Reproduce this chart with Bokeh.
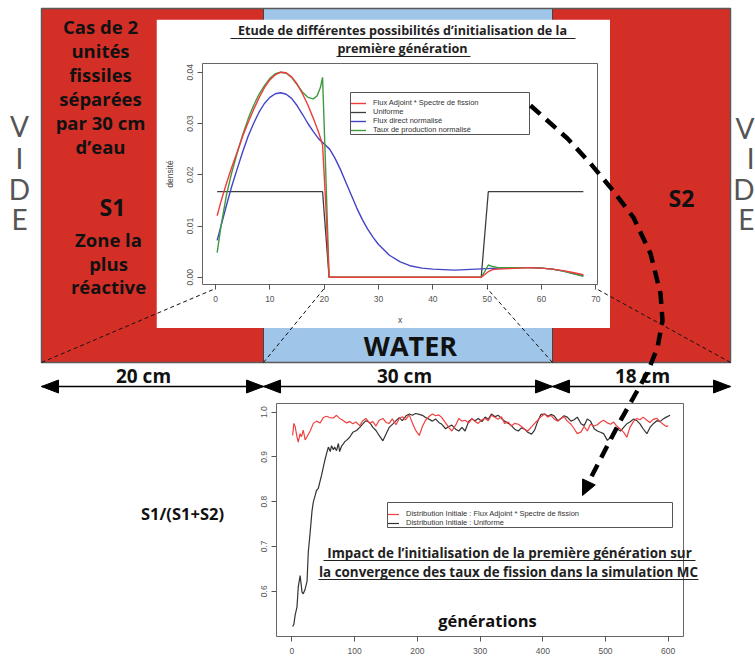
import math
from bokeh.plotting import figure
from bokeh.models import Range1d, FixedTicker, PrintfTickFormatter, Legend, LegendItem
from bokeh.core.properties import value
from bokeh.embed import file_html
from bokeh.resources import INLINE

# ---------------- data: top inset (densité vs x) ----------------
top_series = ["Flux Adjoint * Spectre de fission", "Uniforme",
              "Flux direct normalisé", "Taux de production normalisé"]
adj_x = [0.3, 1, 2, 3, 4, 5, 6, 7, 8, 9, 10, 11, 12, 13, 14, 15, 16, 17, 18, 19,
         19.7, 20.3, 20.9, 30, 40, 48.9, 49.5, 50.2, 51, 52, 54, 56, 58, 60, 62, 64, 66, 67.7]
adj_y = [0.0120, 0.0148, 0.0183, 0.0215, 0.0245, 0.0275, 0.0302, 0.0327, 0.0350, 0.0370,
         0.0385, 0.0395, 0.0400, 0.0399, 0.0391, 0.0377, 0.0358, 0.0336, 0.0310, 0.0282,
         0.0258, 0.0140, 0.0, 0.0, 0.0, 0.0, 0.0005, 0.0011, 0.0015, 0.0016, 0.0017, 0.0018,
         0.0019, 0.0018, 0.0016, 0.0013, 0.0009, 0.0005]
uni_x = [0.3, 19.7, 20.9, 48.9, 50.2, 67.7]
uni_y = [0.0167, 0.0167, 0.0, 0.0, 0.0167, 0.0167]
dir_x = [0.3, 1, 2, 3, 4, 5, 6, 7, 8, 9, 10, 11, 12, 13, 14, 15, 16, 17, 18, 19, 20, 21, 22,
         23, 24, 25, 26, 27, 28, 29, 30, 32, 34, 36, 38, 40, 42, 44, 46, 48, 50, 52, 54, 56,
         58, 60, 62, 64, 66, 67.7]
dir_y = [0.0072, 0.0100, 0.0140, 0.0178, 0.0212, 0.0245, 0.0275, 0.0300, 0.0322, 0.0339,
         0.0351, 0.0358, 0.0360, 0.0357, 0.0349, 0.0335, 0.0318, 0.0300, 0.0284, 0.0270,
         0.0260, 0.0250, 0.0232, 0.0210, 0.0185, 0.0160, 0.0135, 0.0113, 0.0094, 0.0078,
         0.0064, 0.0043, 0.0030, 0.0022, 0.0018, 0.0016, 0.0015, 0.0014, 0.0015, 0.0016,
         0.0017, 0.0018, 0.0018, 0.0019, 0.0019, 0.0018, 0.0016, 0.0012, 0.0007, 0.0003]
prod_x = [0.3, 1, 2, 3, 4, 5, 6, 7, 8, 9, 10, 11, 12, 13, 14, 15, 16, 17, 18, 18.7, 19.3,
          19.7, 20.3, 20.9, 30, 40, 48.9, 49.6, 50.2, 51, 52, 54, 56, 58, 60, 62, 64, 66, 67.7]
prod_y = [0.0048, 0.0100, 0.0160, 0.0205, 0.0243, 0.0278, 0.0309, 0.0335, 0.0357, 0.0374,
          0.0388, 0.0397, 0.0400, 0.0398, 0.0390, 0.0376, 0.0361, 0.0351, 0.0348, 0.0354,
          0.0370, 0.0390, 0.0200, 0.0, 0.0, 0.0, 0.0, 0.0012, 0.0024, 0.0021, 0.0019, 0.0019,
          0.0019, 0.0019, 0.0018, 0.0016, 0.0012, 0.0007, 0.0002]
top_xticks = [0, 10, 20, 30, 40, 50, 60, 70]
top_yticks = [0.0, 0.01, 0.02, 0.03, 0.04]

# ---------------- data: bottom inset (S1/(S1+S2) vs générations) ----------------
bot_series = ["Distribution Initiale : Flux Adjoint * Spectre de fission",
              "Distribution Initiale : Uniforme"]
gen_adj = [1, 3, 5, 8, 10, 13, 15, 18, 21, 24,
           29, 34, 39, 45, 50, 55, 60, 66, 71, 76,
           81, 87, 92, 97, 102, 108, 113, 118, 124, 129,
           134, 139, 145, 150, 155, 160, 166, 171, 176, 181,
           187, 192, 197, 203, 208, 213, 218, 224, 229, 234,
           239, 245, 250, 255, 261, 266, 271, 276, 282, 287,
           292, 297, 303, 308, 313, 318, 324, 329, 334, 339,
           345, 350, 355, 361, 366, 371, 376, 382, 387, 392,
           397, 403, 408, 413, 418, 424, 429, 434, 439, 445,
           450, 455, 461, 466, 471, 476, 482, 487, 492, 497,
           503, 508, 513, 518, 524, 529, 534, 539, 545, 550,
           555, 560, 566, 571, 576, 582, 587, 592, 597, 600]
val_adj = [0.948, 0.975, 0.968, 0.945, 0.933, 0.952, 0.945, 0.960, 0.938, 0.945,
           0.958, 0.975, 0.980, 0.976, 0.988, 0.991, 0.988, 0.987, 0.993, 0.986,
           0.982, 0.976, 0.979, 0.974, 0.978, 0.970, 0.981, 0.986, 0.975, 0.979,
           0.969, 0.982, 0.986, 0.977, 0.975, 0.985, 0.972, 0.986, 0.990, 0.983,
           0.994, 0.976, 0.960, 0.948, 0.968, 0.982, 0.990, 0.996, 0.992, 0.994,
           0.988, 0.976, 0.966, 0.958, 0.971, 0.986, 0.980, 0.982, 0.976, 0.986,
           0.979, 0.975, 0.983, 0.986, 0.981, 0.993, 0.988, 0.984, 0.990, 0.975,
           0.978, 0.969, 0.975, 0.973, 0.968, 0.962, 0.958, 0.967, 0.975, 0.982,
           0.990, 0.996, 0.989, 0.993, 0.985, 0.980, 0.986, 0.990, 0.980, 0.973,
           0.963, 0.952, 0.956, 0.968, 0.958, 0.973, 0.969, 0.972, 0.978, 0.982,
           0.976, 0.973, 0.978, 0.969, 0.962, 0.955, 0.944, 0.966, 0.980, 0.986,
           0.983, 0.989, 0.982, 0.977, 0.984, 0.986, 0.979, 0.973, 0.968, 0.970]
gen_uni = [1, 3, 5, 8, 10, 13, 16, 18, 21, 24,
           26, 29, 32, 34, 37, 39, 42, 45, 47, 50,
           53, 55, 58, 61, 63, 66, 68, 71, 74, 76,
           79, 82, 84, 87, 92, 97, 103, 108, 113, 118,
           124, 129, 134, 139, 145, 150, 155, 161, 166, 171,
           176, 182, 187, 192, 197, 203, 208, 213, 218, 224,
           229, 234, 239, 245, 250, 255, 261, 266, 271, 276,
           282, 287, 292, 297, 303, 308, 313, 318, 324, 329,
           334, 339, 345, 350, 355, 361, 366, 371, 376, 382,
           387, 392, 397, 403, 408, 413, 418, 424, 429, 434,
           439, 445, 450, 455, 461, 466, 471, 476, 482, 487,
           492, 497, 503, 508, 513, 518, 524, 529, 534, 539,
           545, 550, 555, 560, 566, 571, 576, 582, 587, 592,
           597, 603]
val_uni = [0.521, 0.526, 0.546, 0.565, 0.609, 0.635, 0.598, 0.594, 0.605, 0.622,
           0.687, 0.732, 0.780, 0.799, 0.814, 0.825, 0.830, 0.847, 0.858, 0.877,
           0.896, 0.907, 0.922, 0.912, 0.925, 0.916, 0.922, 0.914, 0.930, 0.912,
           0.924, 0.929, 0.934, 0.937, 0.944, 0.955, 0.959, 0.966, 0.974, 0.981,
           0.977, 0.966, 0.959, 0.948, 0.936, 0.951, 0.966, 0.974, 0.981, 0.988,
           0.981, 0.992, 0.996, 0.993, 0.997, 0.995, 0.993, 0.988, 0.985, 0.980,
           0.985, 0.977, 0.973, 0.963, 0.968, 0.971, 0.962, 0.958, 0.966, 0.958,
           0.980, 0.985, 0.981, 0.986, 0.979, 0.989, 0.984, 0.996, 0.990, 0.993,
           0.986, 0.980, 0.975, 0.970, 0.962, 0.958, 0.965, 0.962, 0.955, 0.951,
           0.960, 0.980, 0.995, 0.996, 0.991, 0.995, 0.992, 0.981, 0.986, 0.992,
           0.989, 0.980, 0.983, 0.989, 0.974, 0.970, 0.985, 0.980, 0.963, 0.958,
           0.955, 0.952, 0.937, 0.944, 0.952, 0.963, 0.958, 0.966, 0.974, 0.978,
           0.985, 0.981, 0.974, 0.963, 0.952, 0.966, 0.974, 0.981, 0.979, 0.985,
           0.989, 0.993]
bot_xticks = [0, 100, 200, 300, 400, 500, 600]
bot_yticks = [0.6, 0.7, 0.8, 0.9, 1.0]

# ---------------- diagram content ----------------
zone_labels = ["20 cm", "30 cm", "18 cm"]
zone_kind = ["fissile", "water", "fissile"]
chart_x_at_edges = [0, 20, 50, 70]          # x of the density plot linked to each zone edge
left_text = ["Cas de 2", "unités", "fissiles", "séparées", "par 30 cm", "d’eau"]
left_text2 = ["Zone la", "plus", "réactive"]
vide = ["V", "I", "D", "E"]

# ---------------- layout (page pixels) ----------------
PW, PH = 755, 658
edges = [41, 263, 552, 730]  # zone boundaries
BOX_T, BOX_B = 8, 362
DIM_Y = 386
RED, BLUE = "#d42f27", "#9fc5e8"
TOP_FIG = (156, 19, 610, 328)
TOP_FRAME = (202, 63, 597, 284)
BOT_FIG = (240, 396, 755, 658)
BOT_FRAME = (276, 403, 683, 636)
top_xr = (-2.4, 70.3)
top_yr = (-0.0014, 0.0417)
bot_xr = (-24.7, 624.4)
bot_yr = (0.4988, 1.0194)
FONT = value("Open Sans")
THIN = value("Lato")


def place(p, x, y):
    p.styles = {"position": "absolute", "left": f"{x}px", "top": f"{y}px", "margin": "0px"}


def canvas():
    p = figure(width=PW, height=PH, x_range=Range1d(0, PW), y_range=Range1d(PH, 0),
               output_backend="svg", toolbar_location=None, min_border=0,
               x_axis_location=None, y_axis_location=None)
    p.grid.visible = False
    p.outline_line_color = None
    return p


def style_chart(p, fs):
    for ax in p.axis:
        ax.axis_line_color = None
        ax.major_tick_line_color = "#555555"
        ax.major_tick_in = 0
        ax.minor_tick_line_color = None
        ax.major_label_text_font = "Liberation Sans"
        ax.major_label_text_font_size = fs
        ax.major_label_text_color = "#555555"
        ax.axis_label_text_font = "Liberation Sans"
        ax.axis_label_text_font_style = "normal"
        ax.axis_label_text_font_size = fs
        ax.axis_label_text_color = "#444444"
    p.grid.visible = False
    p.outline_line_color = "#666666"
    p.outline_line_width = 1


def txt(p, x, y, t, size, bold=True, color="#111111", align="center", font=FONT):
    p.text(x=x, y=y, text=t, text_font=font, text_font_size=size,
           text_font_style="bold" if bold else "normal", text_color=color,
           text_align=align, text_baseline="middle")


# ================= background slide =================
bg = canvas()
fill = [RED if k == "fissile" else BLUE for k in zone_kind]
bg.quad(left=edges[:-1], right=edges[1:], top=[BOX_T] * 3, bottom=[BOX_B] * 3,
        fill_color=fill, line_color=None)
bg.segment(x0=edges[1:-1], y0=[BOX_T] * 2, x1=edges[1:-1], y1=[BOX_B] * 2,
           line_color="#444444", line_width=1)
bg.quad(left=[edges[0]], right=[edges[-1]], top=[BOX_T], bottom=[BOX_B],
        fill_color=None, line_color="#5a5a5a", line_width=1.5)
bg.segment(x0=[edges[0]], y0=[DIM_Y], x1=[edges[-1]], y1=[DIM_Y], line_color="black", line_width=1.5)
hl, hw = 17, 6.5
xs, ys = [], []
for i, e in enumerate(edges):
    if i > 0:
        xs.append([e, e - hl, e - hl]); ys.append([DIM_Y, DIM_Y - hw, DIM_Y + hw])
    if i < len(edges) - 1:
        xs.append([e, e + hl, e + hl]); ys.append([DIM_Y, DIM_Y - hw, DIM_Y + hw])
bg.patches(xs=xs, ys=ys, fill_color="black", line_color="black")
txt(bg, [143, 404, 642], [375, 375, 375], zone_labels, "19px")
txt(bg, [410], [345], ["WATER"], "27px")
txt(bg, [100] * 6, [26, 50, 74, 98, 122, 146], left_text, "18.5px")
txt(bg, [112], [206], ["S1"], "23px")
txt(bg, [108] * 3, [239, 263, 286], left_text2, "18.5px")
txt(bg, [681], [197], ["S2"], "23px")
txt(bg, [19] * 4, [125, 157, 188, 218], vide, "28px", bold=False, color="#555555", font=THIN)
txt(bg, [754] * 4, [127, 157, 188, 218], vide, "28px", bold=False, color="#555555",
    align="right", font=THIN)
txt(bg, [182], [513], ["S1/(S1+S2)"], "16.5px")
place(bg, 0, 0)

# ================= top inset =================
top = figure(width=TOP_FIG[2] - TOP_FIG[0], height=TOP_FIG[3] - TOP_FIG[1],
             x_range=Range1d(*top_xr), y_range=Range1d(*top_yr),
             output_backend="svg", toolbar_location=None,
             min_border_left=TOP_FRAME[0] - TOP_FIG[0], min_border_right=TOP_FIG[2] - TOP_FRAME[2],
             min_border_top=TOP_FRAME[1] - TOP_FIG[1], min_border_bottom=TOP_FIG[3] - TOP_FRAME[3],
             x_axis_label="x", y_axis_label="densité")
style_chart(top, "8.5px")
top.xaxis.ticker = FixedTicker(ticks=top_xticks)
top.yaxis.ticker = FixedTicker(ticks=top_yticks)
top.yaxis.formatter = PrintfTickFormatter(format="%.2f")
top.yaxis.major_label_orientation = "vertical"
top.axis.major_tick_out = 5
top.xaxis.major_label_standoff = 6
top.yaxis.major_label_standoff = 4
top.xaxis.axis_label_standoff = 10
top.yaxis.axis_label_standoff = 10
r_uni = top.line(uni_x, uni_y, line_color="#3d3d3d", line_width=1.3)
r_dir = top.line(dir_x, dir_y, line_color="#4343c8", line_width=1.4)
r_prod = top.line(prod_x, prod_y, line_color="#3e9a3e", line_width=1.4)
r_adj = top.line(adj_x, adj_y, line_color="#f03c3c", line_width=1.4)
LEG1 = (350, 92, 529, 134)
leg1 = Legend(items=[LegendItem(label=value(top_series[0]), renderers=[r_adj]),
                     LegendItem(label=value(top_series[1]), renderers=[r_uni]),
                     LegendItem(label=value(top_series[2]), renderers=[r_dir]),
                     LegendItem(label=value(top_series[3]), renderers=[r_prod])],
              location=(LEG1[0] - TOP_FRAME[0], TOP_FRAME[3] - LEG1[3]),
              border_line_color=None, background_fill_alpha=0,
              label_text_font="Liberation Sans", label_text_font_size="7.5px",
              label_text_color="#333333", glyph_width=16, glyph_height=8, label_height=8,
              label_standoff=7, padding=3, spacing=0, margin=0)
top.add_layout(leg1)
place(top, TOP_FIG[0], TOP_FIG[1])

# ================= bottom inset =================
bot = figure(width=BOT_FIG[2] - BOT_FIG[0], height=BOT_FIG[3] - BOT_FIG[1],
             x_range=Range1d(*bot_xr), y_range=Range1d(*bot_yr),
             output_backend="svg", toolbar_location=None,
             min_border_left=BOT_FRAME[0] - BOT_FIG[0], min_border_right=BOT_FIG[2] - BOT_FRAME[2],
             min_border_top=BOT_FRAME[1] - BOT_FIG[1], min_border_bottom=BOT_FIG[3] - BOT_FRAME[3])
style_chart(bot, "8.5px")
bot.xaxis.ticker = FixedTicker(ticks=bot_xticks)
bot.yaxis.ticker = FixedTicker(ticks=bot_yticks)
bot.yaxis.formatter = PrintfTickFormatter(format="%.1f")
bot.yaxis.major_label_orientation = "vertical"
bot.axis.major_tick_out = 5
bot.xaxis.major_label_standoff = 6
bot.yaxis.major_label_standoff = 4
b_uni = bot.line(gen_uni, val_uni, line_color="#333333", line_width=1.2)
b_adj = bot.line(gen_adj, val_adj, line_color="#f04040", line_width=1.2)
LEG2 = (387, 502, 672, 527)
leg2 = Legend(items=[LegendItem(label=value(bot_series[0]), renderers=[b_adj]),
                     LegendItem(label=value(bot_series[1]), renderers=[b_uni])],
              location=(LEG2[0] - BOT_FRAME[0], BOT_FRAME[3] - LEG2[3]),
              border_line_color=None, background_fill_alpha=0,
              label_text_font="Liberation Sans", label_text_font_size="7.5px",
              label_text_color="#333333", glyph_width=12, glyph_height=8, label_height=8,
              label_standoff=7, padding=4, spacing=0, margin=0)
bot.add_layout(leg2)
place(bot, BOT_FIG[0], BOT_FIG[1])

# ================= overlay: titles, legend boxes, connectors, arrow =================
ov = canvas()
ov.background_fill_color = None
ov.border_fill_color = None


def top_px(xv):
    return TOP_FRAME[0] + (xv - top_xr[0]) / (top_xr[1] - top_xr[0]) * (TOP_FRAME[2] - TOP_FRAME[0])


ov.quad(left=[LEG1[0], LEG2[0]], right=[LEG1[2], LEG2[2]], top=[LEG1[1], LEG2[1]],
        bottom=[LEG1[3], LEG2[3]], fill_color=None, line_color="#555555", line_width=1)
ov.segment(x0=edges, y0=[BOX_B] * 4, x1=[top_px(v) for v in chart_x_at_edges],
           y1=[TOP_FRAME[3] + 4] * 4, line_color="#111111", line_width=1, line_dash="4 3")

txt(ov, [402, 402], [30, 48], ["Etude de différentes possibilités d’initialisation de la",
                               "première génération"], "12.6px", color="#222222")
ov.segment(x0=[230, 336], y0=[38, 56], x1=[575, 470], y1=[38, 56], line_color="#222222", line_width=1.2)
txt(ov, [509, 508], [552, 571], ["Impact de l’initialisation de la première génération sur",
                                 "la convergence des taux de fission dans la simulation MC"],
    "13.4px", color="#222222")
ov.segment(x0=[323, 318], y0=[560, 579], x1=[695, 698], y1=[560, 579], line_color="#222222", line_width=1.2)
txt(ov, [487], [620], ["générations"], "16.5px")

arc_x = [530, 567, 590, 610, 633, 650, 660, 662, 657, 647, 633, 620, 607, 591]
arc_y = [105, 138, 163, 187, 217, 253, 293, 320, 347, 372, 397, 420, 445, 476]
ov.line(arc_x, arc_y, line_color="black", line_width=4.5, line_dash="13 8")
tip = (582, 495)
dx, dy = tip[0] - arc_x[-1], tip[1] - arc_y[-1]
n = math.hypot(dx, dy)
ux, uy = dx / n, dy / n
bx, by = tip[0] - 15 * ux, tip[1] - 15 * uy
ov.patch(x=[tip[0], bx + 7 * uy, bx - 7 * uy], y=[tip[1], by - 7 * ux, by + 7 * ux],
         fill_color="black", line_color="black")
place(ov, 0, 0)

open("out.html", "w").write(file_html([bg, top, bot, ov], INLINE))
